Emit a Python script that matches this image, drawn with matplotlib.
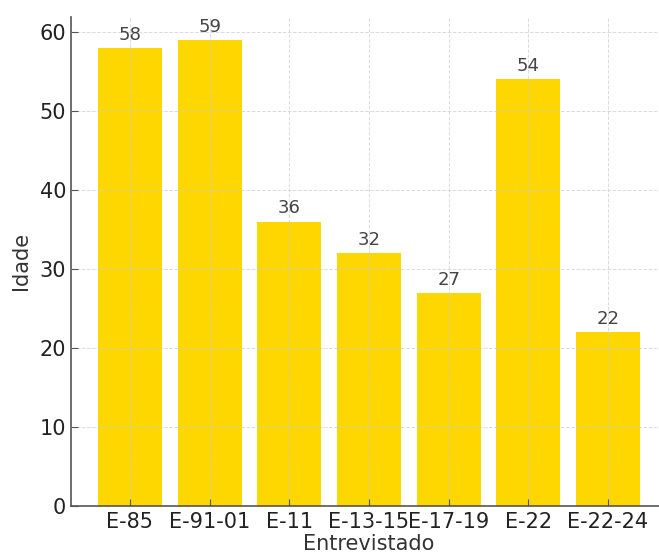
import matplotlib
matplotlib.use("Agg")
import matplotlib.pyplot as plt

entrevistados = ["E-85", "E-91-01", "E-11", "E-13-15", "E-17-19", "E-22", "E-22-24"]
idades = [58, 59, 36, 32, 27, 54, 22]

plt.rcParams.update({
    "font.family": "DejaVu Sans",
    "axes.labelsize": 15,
    "xtick.labelsize": 15,
    "ytick.labelsize": 15,
})

fig = plt.figure(figsize=(6.59, 5.58), dpi=100)
# axes runs slightly past the right edge of the canvas
ax = fig.add_axes([71 / 659, 52 / 558, 596 / 659, 489.4 / 558])

bars = ax.bar(entrevistados, idades, color="#FFD700", width=0.8)
for rect, v in zip(bars, idades):
    ax.annotate(str(v), xy=(rect.get_x() + rect.get_width() / 2, v),
                xytext=(0, 3), textcoords="offset points",
                ha="center", va="bottom", fontsize=13, color="#444444")

ax.grid(True, linestyle="--", color="#cccccc", linewidth=0.7, alpha=0.7)
ax.set_axisbelow(False)

for side in ("top", "right"):
    ax.spines[side].set_visible(False)
for side in ("left", "bottom"):
    ax.spines[side].set_color("#555555")
    ax.spines[side].set_linewidth(1.2)

ax.tick_params(direction="in", length=5, color="#555555", labelcolor="#222222")
ax.tick_params(axis="x", pad=4)
ax.set_yticks(range(0, 61, 10))
ax.set_xlabel("Entrevistado", color="#333333", labelpad=2)
ax.set_ylabel("Idade", color="#333333", labelpad=6)

fig.savefig("out.png", dpi=100)
